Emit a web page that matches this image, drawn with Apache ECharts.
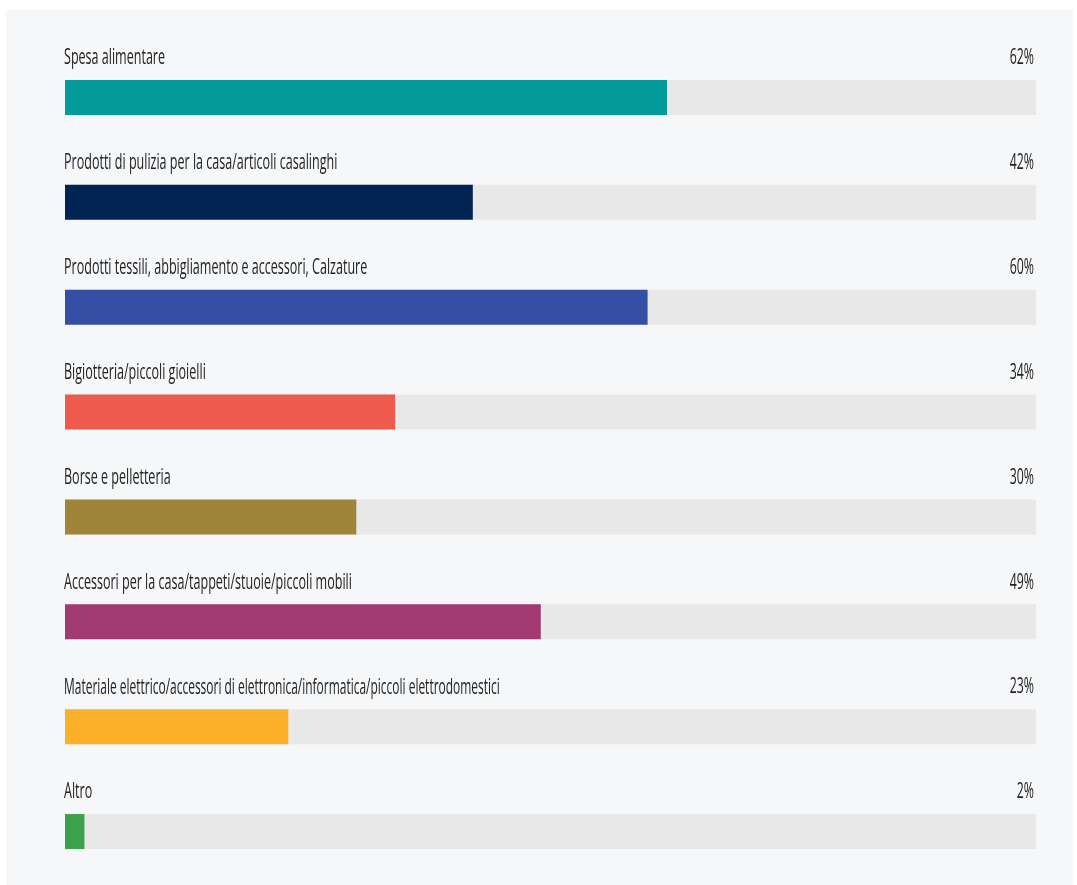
<!DOCTYPE html>
<html>
<head>
<meta charset="utf-8">
<script src="https://cdn.jsdelivr.net/npm/echarts@6/dist/echarts.min.js"></script>
<style>
  html, body { margin: 0; padding: 0; background: #fff; }
  #main { width: 1077px; height: 885px; }
</style>
</head>
<body>
<div id="main"></div>
<script>
var categories = [
    'Spesa alimentare',
    'Prodotti di pulizia per la casa/articoli casalinghi',
    'Prodotti tessili, abbigliamento e accessori, Calzature',
    'Bigiotteria/piccoli gioielli',
    'Borse e pelletteria',
    'Accessori per la casa/tappeti/stuoie/piccoli mobili',
    'Materiale elettrico/accessori di elettronica/informatica/piccoli elettrodomestici',
    'Altro'
];
var values = [62, 42, 60, 34, 30, 49, 23, 2];
var colors = ['#039b9a', '#022455', '#344fa3', '#ee5b4c', '#a0843a', '#a23a72', '#fdb12b', '#3ba14a'];
var trackMax = 100;

var BAR_H = 35;
var font = '"Open Sans", sans-serif';
var myChart = echarts.init(document.getElementById('main'));

// text for each row: category on the left, percentage on the right (squeezed like the original)
function renderLabels(params, api) {
    var idx = api.value(1);
    var left = api.coord([0, idx]);
    var right = api.coord([trackMax, idx]);
    var y = left[1] - BAR_H / 2 - 11;
    var name = categories[idx];
    var size = name.length > 70 ? 21 : 22;
    return {
        type: 'group',
        children: [{
            type: 'text',
            x: left[0] - 1,
            y: y,
            scaleX: 0.57,
            style: {
                text: name,
                font: size + 'px ' + font,
                fill: '#222',
                align: 'left',
                verticalAlign: 'bottom'
            }
        }, {
            type: 'text',
            x: right[0] - 2,
            y: y,
            scaleX: 0.56,
            style: {
                text: values[idx] + '%',
                font: '22px ' + font,
                fill: '#222',
                align: 'right',
                verticalAlign: 'bottom'
            }
        }]
    };
}

var option = {
    backgroundColor: '#fff',
    animation: false,
    graphic: [{
        type: 'rect',
        z: -10,
        shape: { x: 6, y: 10, width: 1067, height: 875 },
        style: { fill: '#f6f7f9' }
    }],
    grid: { left: 65, right: 41, top: 45, bottom: 1 },
    xAxis: { type: 'value', min: 0, max: trackMax, show: false },
    yAxis: {
        type: 'category',
        data: categories,
        inverse: true,
        show: false
    },
    series: [
        {
            type: 'bar',
            barWidth: BAR_H,
            silent: true,
            itemStyle: { color: '#e8e8e8' },
            data: categories.map(function () { return trackMax; })
        },
        {
            type: 'bar',
            barWidth: BAR_H,
            barGap: '-100%',
            data: values.map(function (v, i) {
                return { value: v, itemStyle: { color: colors[i] } };
            })
        },
        {
            type: 'custom',
            silent: true,
            clip: false,
            renderItem: renderLabels,
            data: values.map(function (v, i) { return [v, i]; })
        }
    ]
};

myChart.setOption(option);
</script>
</body>
</html>
